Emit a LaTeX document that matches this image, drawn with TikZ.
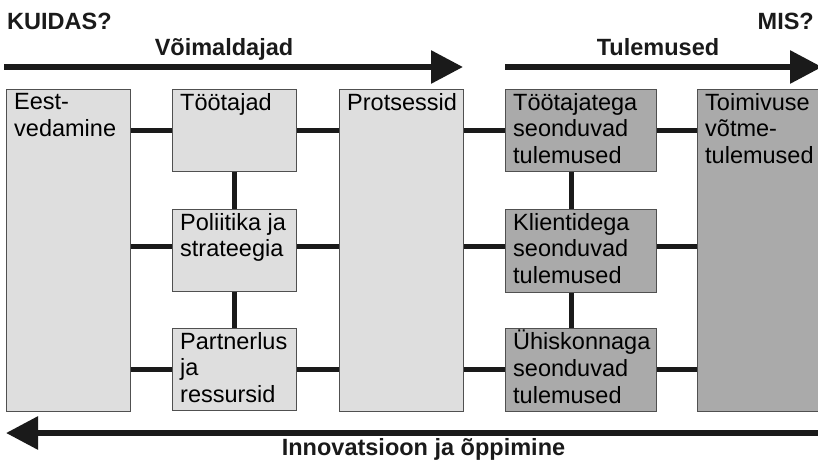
\documentclass[tikz,border=0pt]{standalone}
\usepackage{fontspec}
\setmainfont{Liberation Sans}
\usepackage{xcolor}
\usepackage{tikz}
\usetikzlibrary{positioning,calc,arrows.meta}
\definecolor{EnablerGray}{RGB}{222,222,222}
\definecolor{ResultGray}{RGB}{170,170,170}
\definecolor{EdgeGray}{RGB}{80,80,80}
\definecolor{LinkBlack}{RGB}{26,26,26}
\tikzset{
    boxbase/.style={draw=EdgeGray, line width=0.9pt, inner sep=0pt, anchor=north west},
    enabler/.style={boxbase, fill=EnablerGray},
    result/.style={boxbase, fill=ResultGray},
    boxtext/.style={anchor=north west, align=left, inner sep=0pt, xshift=8pt, yshift=-4pt,
        font=\fontsize{23.5}{26.7}\selectfont},
    link/.style={draw=LinkBlack, line width=5pt},
    bigarrow/.style={draw=LinkBlack, line width=6pt, -{Triangle[length=32pt, width=32pt]}}
}

\begin{document}
\begin{tikzpicture}[
        x=1pt, y=-1pt,
        % --- STYLE ---
        headtext/.style={
            inner sep=0pt,
            text=LinkBlack,
            font=\bfseries\fontsize{23.5}{26}\selectfont
        }
    ]
    \useasboundingbox (0,0) rectangle (818,461);
    \clip (0,0) rectangle (818,461);

    % --- VOIMALDAJAD ---
    \node[enabler, minimum width=124pt, minimum height=322pt] (lead) at (6,89) {};
    \node[enabler, minimum width=124pt, minimum height=82pt] (people) at (172,89) {};
    \node[enabler, minimum width=124pt, minimum height=82pt] (policy) at (172,209) {};
    \node[enabler, minimum width=124pt, minimum height=82pt] (partner) at (172,328) {};
    \node[enabler, minimum width=124pt, minimum height=322pt] (process) at (339,89) {};

    % --- TULEMUSED ---
    \node[result, minimum width=151pt, minimum height=82pt] (peopleres) at (505,89) {};
    \node[result, minimum width=151pt, minimum height=83pt] (custres) at (505,209) {};
    \node[result, minimum width=151pt, minimum height=83pt] (socres) at (505,328) {};
    \node[result, minimum width=140pt, minimum height=322pt] (keyres) at (697,89) {};

    % --- TEKSTID KASTIDES ---
    \node[boxtext] (leadtext) at (lead.north west) {Eest-\\vedamine};
    \node[boxtext] (peopletext) at (people.north west) {Töötajad};
    \node[boxtext] (policytext) at (policy.north west) {Poliitika ja\\strateegia};
    \node[boxtext] (partnertext) at (partner.north west) {Partnerlus\\ja\\ressursid};
    \node[boxtext] (processtext) at (process.north west) {Protsessid};
    \node[boxtext] (peoplerestext) at (peopleres.north west) {Töötajatega\\seonduvad\\tulemused};
    \node[boxtext] (custrestext) at (custres.north west) {Klientidega\\seonduvad\\tulemused};
    \node[boxtext, yshift=2pt] (socrestext) at (socres.north west) {Ühiskonnaga\\seonduvad\\tulemused};
    \node[boxtext] (keyrestext) at (keyres.north west) {Toimivuse\\võtme-\\tulemused};

    % --- UHENDUSED ---
    \draw[link] (lead.east |- people.west) -- (people.west);
    \draw[link] ([yshift=4pt]lead.east |- policy.west) -- ([yshift=4pt]policy.west);
    \draw[link] (lead.east |- partner.west) -- (partner.west);
    \draw[link] (people.east) -- (process.west |- people.east);
    \draw[link] ([yshift=4pt]policy.east) -- ([yshift=4pt]process.west |- policy.east);
    \draw[link] (partner.east) -- (process.west |- partner.east);
    \draw[link] (people.south) -- (policy.north);
    \draw[link] (policy.south) -- (partner.north);

    \draw[link] (process.east |- peopleres.west) -- (peopleres.west);
    \draw[link] ([yshift=4pt]process.east |- custres.west) -- ([yshift=4pt]custres.west);
    \draw[link] (process.east |- socres.west) -- (socres.west);
    \draw[link] (peopleres.east) -- (keyres.west |- peopleres.east);
    \draw[link] ([yshift=4pt]custres.east) -- ([yshift=4pt]keyres.west |- custres.east);
    \draw[link] (socres.east) -- (keyres.west |- socres.east);
    \draw[link] ([xshift=-9pt]peopleres.south) -- ([xshift=-9pt]custres.north);
    \draw[link] ([xshift=-9pt]custres.south) -- ([xshift=-9pt]socres.north);

    % --- NOOLED ---
    \coordinate (enstart) at (4,67);
    \coordinate (enend) at (463,67);
    \coordinate (resstart) at (505,67);
    \coordinate (resend) at (822,67);
    \coordinate (instart) at (822,433);
    \coordinate (inend) at (6,433);
    \draw[bigarrow] (enstart) -- (enend);
    \draw[bigarrow] (resstart) -- (resend);
    \draw[bigarrow] (instart) -- (inend);

    % --- PEALKIRJAD ---
    \node[headtext, anchor=base west] (how) at (7,29.5) {KUIDAS?};
    \node[headtext, anchor=base east] (what) at (814,29.5) {MIS?};
    \node[headtext, anchor=base] (enablers) at (224,55) {Võimaldajad};
    \node[headtext, anchor=base] (results) at (658,55) {Tulemused};
    \node[headtext, anchor=base] (innov) at (423.5,455) {Innovatsioon ja õppimine};

\end{tikzpicture}
\end{document}
